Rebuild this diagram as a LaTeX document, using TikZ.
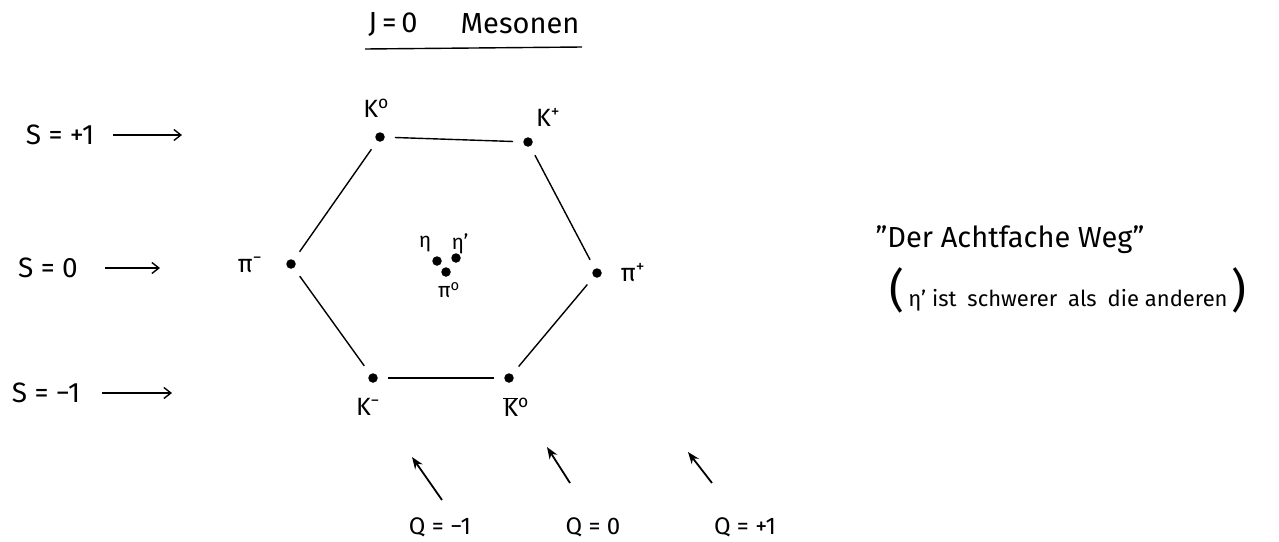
\documentclass[tikz,border=0pt]{standalone}
\usepackage{fontspec}
\setmainfont{Fira Sans}
\usetikzlibrary{arrows.meta}
\tikzset{
  dot/.style={circle,fill=black,inner sep=0pt,minimum size=9.5pt},
  edge/.style={line width=1.4pt, shorten <=10pt, shorten >=10pt},
  lab/.style={font=\fontsize{25}{28}\selectfont, inner sep=0pt},
  smalllab/.style={font=\fontsize{21}{24}\selectfont, inner sep=0pt},
  slab/.style={font=\fontsize{28}{32}\selectfont, inner sep=0pt},
  qlab/.style={font=\fontsize{24}{28}\selectfont, inner sep=0pt},
  bigtext/.style={font=\fontsize{29}{33}\selectfont, inner sep=0pt},
  paren/.style={font=\fontsize{22}{26}\selectfont, inner sep=0pt},
  sarrow/.style={line width=1.4pt, -{Straight Barb[length=7pt,width=11pt]}},
  qarrow/.style={line width=1.8pt, -{Stealth[length=12pt,width=9pt]}},
  uline/.style={line width=1.4pt},
}
\begin{document}
\begin{tikzpicture}[x=1pt,y=-1pt]
\useasboundingbox (0,0) rectangle (1279,541);
% title
\node[bigtext] (tJ) at (393,24) {J\,=\,0};
\node[bigtext] (tM) at (520,24) {Mesonen};
\coordinate (ul1) at (365,49);
\coordinate (ul2) at (582,47);
\draw[uline] (ul1) -- (ul2);
% hexagon dots
\node[dot] (K0) at (380,137) {};
\node[dot] (Kp) at (528,142) {};
\node[dot] (pip) at (597,273) {};
\node[dot] (K0b) at (509,378) {};
\node[dot] (Km) at (373,378) {};
\node[dot] (pim) at (291,264) {};
\node[dot] (eta) at (437,261) {};
\node[dot] (etap) at (456,258) {};
\node[dot] (pi0) at (446,272) {};
% edges
\draw[edge] (K0) -- (Kp);
\draw[edge] (Kp) -- (pip);
\draw[edge] (pip) -- (K0b);
\draw[edge] (K0b) -- (Km);
\draw[edge] (Km) -- (pim);
\draw[edge] (pim) -- (K0);
% labels
\node[lab] (lK0) at (376,108) {K\textsuperscript{o}};
\node[lab] (lKp) at (548,117) {K\textsuperscript{+}};
\node[lab] (lpim) at (250,265) {π\textsuperscript{−}};
\node[lab] (lpip) at (633,273) {π\textsuperscript{+}};
\node[lab] (lKm) at (368,407) {K\textsuperscript{−}};
\node[lab] (lK0b) at (516,407) {$\overline{\hbox{K}}$\textsuperscript{o}};
\node[smalllab] (leta) at (425,244) {η};
\node[smalllab] (letap) at (460,244) {η'};
\node[smalllab] (lpi0) at (449,290) {π\textsuperscript{o}};
% strangeness
\node[slab] (S1) at (60,135) {S = +1};
\coordinate (s1a) at (113,135); \coordinate (s1b) at (182,135);
\draw[sarrow] (s1a) -- (s1b);
\node[slab] (S0) at (48,268) {S = 0};
\coordinate (s0a) at (105,268); \coordinate (s0b) at (160,268);
\draw[sarrow] (s0a) -- (s0b);
\node[slab] (Sm) at (46,393) {S = −1};
\coordinate (sma) at (102,393); \coordinate (smb) at (172,393);
\draw[sarrow] (sma) -- (smb);
% charge
\coordinate (q1a) at (442,500); \coordinate (q1b) at (412,457);
\draw[qarrow] (q1a) -- (q1b);
\coordinate (q2a) at (570,483); \coordinate (q2b) at (547,447);
\draw[qarrow] (q2a) -- (q2b);
\coordinate (q3a) at (712,483); \coordinate (q3b) at (688,452);
\draw[qarrow] (q3a) -- (q3b);
\node[qlab] (Qm) at (440,527) {Q = −1};
\node[qlab] (Q0) at (593,527) {Q = 0};
\node[qlab] (Qp) at (745,527) {Q = +1};
% right text
\node[bigtext] (weg) at (1010,240) {"Der Achtfache Weg"};
\node[paren] (note) at (1068,290) {{\fontsize{46}{46}\selectfont (}\,η' ist\enspace schwerer\enspace als\enspace die anderen\,{\fontsize{46}{46}\selectfont )}};
\end{tikzpicture}
\end{document}
